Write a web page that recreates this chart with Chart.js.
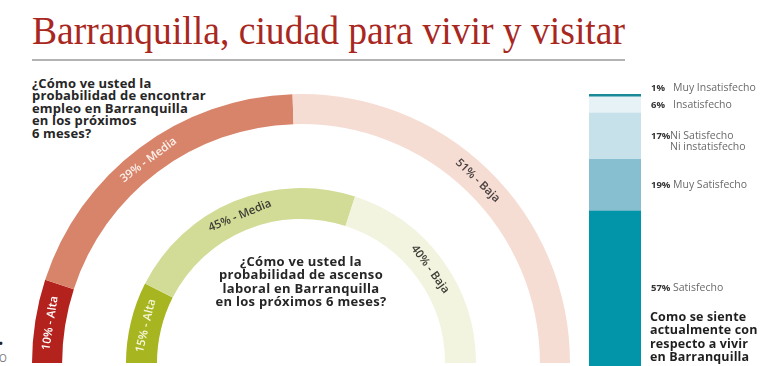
<!DOCTYPE html>
<html>
<head>
<meta charset="utf-8">
<script src="https://cdn.jsdelivr.net/npm/chart.js@4.4.1/dist/chart.umd.min.js"></script>
<style>
  html, body { margin: 0; padding: 0; background: #ffffff; }
  #page { position: relative; width: 760px; height: 366px; overflow: hidden; background: #fff; font-family: "Open Sans", sans-serif; }
  canvas { position: absolute; }
  .title { position: absolute; left: 32px; top: 4px; font-family: "Liberation Serif", serif; font-size: 41px; color: #a8281f; white-space: nowrap; transform-origin: 0 0; line-height: 52px; }
  .rule { position: absolute; left: 32px; top: 59px; width: 593px; height: 2px; background: #b3b3b3; }
  .q1 { position: absolute; left: 32px; top: 77px; font-weight: 700; font-size: 13px; letter-spacing: 0.15px; line-height: 12.4px; color: #262626; white-space: nowrap; }
  .q2 { position: absolute; left: 171px; top: 255px; width: 260px; text-align: center; font-weight: 700; font-size: 13px; letter-spacing: 0.3px; line-height: 13.3px; color: #262626; }
  .q3 { position: absolute; left: 650px; top: 310px; font-weight: 700; font-size: 12.5px; letter-spacing: 0.15px; line-height: 13.4px; color: #1f1f1f; white-space: nowrap; }
  .edge { position: absolute; left: -1px; font-size: 10px; color: #777; }
</style>
</head>
<body>
<div id="page">
  <div class="title" id="title">Barranquilla, ciudad para vivir y visitar</div>
  <div class="rule"></div>
  <div class="q1">¿Cómo ve usted la<br>probabilidad de encontrar<br>empleo en Barranquilla<br>en los próximos<br>6 meses?</div>
  <canvas id="outer" width="538" height="269" style="left:32px; top:94px;"></canvas>
  <canvas id="inner" width="350" height="175" style="left:126px; top:188px;"></canvas>
  <div class="q2">¿Cómo ve usted la<br>probabilidad de ascenso<br>laboral en Barranquilla<br>en los próximos 6 meses?</div>
  <canvas id="bar" width="171" height="286" style="left:589px; top:80px;"></canvas>
  <div class="q3">Como se siente<br>actualmente con<br>respecto a vivir<br>en Barranquilla</div>
  <div class="edge" style="top:336px; color:#222; font-weight:700;">•</div>
  <div class="edge" style="top:351px;">O</div>
</div>
<script>
// ---- data ----
const employmentLabels = ['Alta', 'Media', 'Baja'];
const employmentValues = [10, 39, 51];
const promotionLabels = ['Alta', 'Media', 'Baja'];
const promotionValues = [15, 45, 40];
const satisfactionLabels = ['Muy Insatisfecho', 'Insatisfecho', 'Ni Satisfecho\nNi instatisfecho', 'Muy Satisfecho', 'Satisfecho'];
const satisfactionValues = [1, 6, 17, 19, 57];

// fit title width
(function(){
  const t = document.getElementById('title');
  const w = t.getBoundingClientRect().width;
  const target = 593;
  t.style.transform = 'scaleX(' + (target / w) + ')';
})();

const arcLabels = {
  id: 'arcLabels',
  afterDatasetsDraw(chart, args, opts) {
    const ctx = chart.ctx;
    const meta = chart.getDatasetMeta(0);
    const labels = chart.data.labels;
    const values = chart.data.datasets[0].data;
    meta.data.forEach((arc, i) => {
      const p = arc.getProps(['x', 'y', 'startAngle', 'endAngle', 'innerRadius', 'outerRadius'], true);
      const a = (p.startAngle + p.endAngle) / 2;
      const r = (p.innerRadius + p.outerRadius) / 2;
      ctx.save();
      ctx.translate(p.x + Math.cos(a) * r, p.y + Math.sin(a) * r);
      ctx.rotate(a + Math.PI / 2);
      ctx.fillStyle = opts.colors[i];
      ctx.font = opts.font;
      ctx.textAlign = 'center';
      ctx.textBaseline = 'middle';
      ctx.fillText(values[i] + '% - ' + labels[i], 0, 0);
      ctx.restore();
    });
  }
};

function halfDoughnut(id, labels, values, colors, cutout, textColors) {
  return new Chart(document.getElementById(id), {
    type: 'doughnut',
    data: { labels: labels, datasets: [{ data: values, backgroundColor: colors, borderWidth: 0, hoverOffset: 0 }] },
    options: {
      responsive: false, animation: false,
      rotation: -90, circumference: 180, cutout: cutout,
      layout: { padding: 0 },
      plugins: { legend: { display: false }, tooltip: { enabled: false },
        arcLabels: { colors: textColors, font: '600 11.5px "Open Sans"' } }
    },
    plugins: [arcLabels]
  });
}

halfDoughnut('outer', employmentLabels, employmentValues,
  ['#b3221d', '#d8846a', '#f6ddd3'], '88.8%', ['#ffffff', '#fdf1ec', '#4a4040']);
halfDoughnut('inner', promotionLabels, promotionValues,
  ['#a7b620', '#d3dc96', '#f2f4e0'], '82.3%', ['#f6f7dc', '#3d3d35', '#3d3d35']);

// ---- stacked bar ----
const barColors = ['#1a8a98', '#e6f2f5', '#c6e1e9', '#88bfd0', '#0295aa'];
const barLabelPlugin = {
  id: 'barLabels',
  afterDatasetsDraw(chart, args, opts) {
    const ctx = chart.ctx;
    chart.data.datasets.forEach((ds, di) => {
      const el = chart.getDatasetMeta(di).data[0];
      const idx = ds.srcIndex;
      const cy = (el.y + el.base) / 2 + (opts.nudge[idx] || 0);
      const right = el.x + el.width / 2;
      ctx.save();
      ctx.textBaseline = 'middle';
      ctx.textAlign = 'left';
      ctx.fillStyle = '#333';
      ctx.font = '700 9.5px "Open Sans"';
      ctx.fillText(satisfactionValues[idx] + '%', right + 10, cy);
      ctx.fillStyle = '#6a6a6a';
      ctx.font = '400 10.5px "Open Sans"';
      const lines = satisfactionLabels[idx].split('\n');
      lines.forEach((ln, k) => ctx.fillText(ln, right + (lines.length > 1 ? 29 : 32), cy + k * 10.5));
      ctx.restore();
    });
  }
};
const barDatasets = satisfactionValues.map((v, i) => ({
  label: satisfactionLabels[i], data: [v], backgroundColor: barColors[i], borderWidth: 0,
  barPercentage: 1, categoryPercentage: 1, srcIndex: i
})).reverse();

new Chart(document.getElementById('bar'), {
  type: 'bar',
  data: { labels: ['Barranquilla'], datasets: barDatasets },
  options: {
    responsive: false, animation: false,
    layout: { padding: { left: 0, right: 119, top: 14, bottom: 0 } },
    scales: {
      x: { stacked: true, display: false },
      y: { stacked: true, display: false, min: 0, max: 100 }
    },
    plugins: { legend: { display: false }, tooltip: { enabled: false }, barLabels: { nudge: { 0: -7 } } }
  },
  plugins: [barLabelPlugin]
});
</script>
</body>
</html>
